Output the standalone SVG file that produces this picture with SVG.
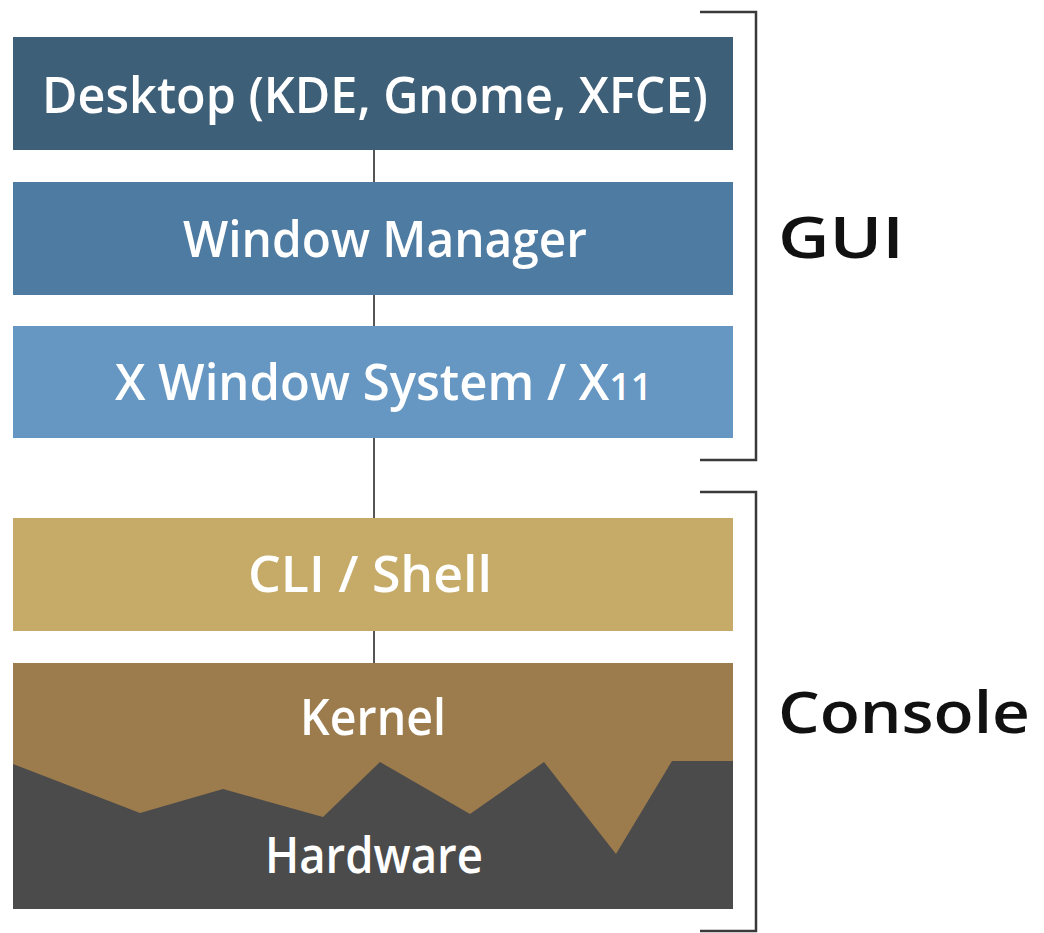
<svg xmlns="http://www.w3.org/2000/svg" width="1044" height="933" viewBox="0 0 1044 933">
<style>
.lbl{font-family:"Open Sans","Liberation Sans",sans-serif;font-size:50px;font-weight:600;fill:#ffffff;}
.side{font-family:"Open Sans","Liberation Sans",sans-serif;font-size:57px;font-weight:600;fill:#111111;}
.conn{stroke:#555555;stroke-width:2;fill:none;}
.brk{stroke:#3a3a3a;stroke-width:2.5;fill:none;}
</style>
<rect width="1044" height="933" fill="#ffffff"/>
<g id="connectors">
<line class="conn" x1="374" y1="150" x2="374" y2="182"/>
<line class="conn" x1="374" y1="295" x2="374" y2="326"/>
<line class="conn" x1="374" y1="438" x2="374" y2="518"/>
<line class="conn" x1="374" y1="631" x2="374" y2="663"/>
</g>
<g id="desktop">
<rect x="13" y="37" width="720" height="113" fill="#3e5f78"/>
<text class="lbl" x="42" y="113" textLength="666" lengthAdjust="spacingAndGlyphs">Desktop (KDE, Gnome, XFCE)</text>
</g>
<g id="window-manager">
<rect x="13" y="182" width="720" height="113" fill="#4e7ba1"/>
<text class="lbl" x="183" y="257" textLength="404" lengthAdjust="spacingAndGlyphs">Window Manager</text>
</g>
<g id="x-window">
<rect x="13" y="326" width="720" height="112" fill="#6597c2"/>
<text class="lbl" x="115" y="400" textLength="537" lengthAdjust="spacingAndGlyphs">X Window System / X<tspan font-size="38">11</tspan></text>
</g>
<g id="cli-shell">
<rect x="13" y="518" width="720" height="113" fill="#c5ab67"/>
<text class="lbl" x="248" y="592" textLength="244" lengthAdjust="spacingAndGlyphs">CLI / Shell</text>
</g>
<g id="kernel">
<rect x="13" y="663" width="720" height="246" fill="#9c7b4c"/>
<text class="lbl" x="300" y="735" textLength="146" lengthAdjust="spacingAndGlyphs">Kernel</text>
</g>
<g id="hardware">
<polygon points="13,764 140,813 223,789 323,817 380,762 470,814 544,762 616,854 672,761 733,761 733,909 13,909" fill="#4b4b4b"/>
<text class="lbl" x="265" y="873" textLength="218" lengthAdjust="spacingAndGlyphs">Hardware</text>
</g>
<g id="gui-bracket">
<polyline class="brk" points="700,12 756,12 756,460 700,460"/>
<text class="side" x="778" y="258" textLength="126" lengthAdjust="spacingAndGlyphs">GUI</text>
</g>
<g id="console-bracket">
<polyline class="brk" points="700,492 756,492 756,931 700,931"/>
<text class="side" x="778" y="733" textLength="252" lengthAdjust="spacingAndGlyphs">Console</text>
</g>
</svg>
